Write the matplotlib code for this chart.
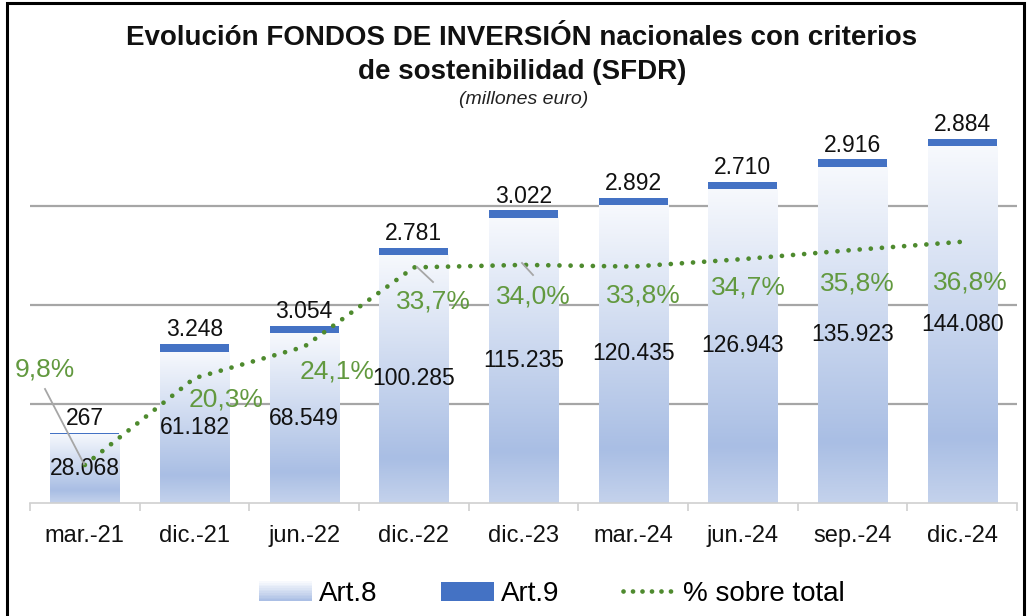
import numpy as np
import matplotlib
matplotlib.use("Agg")
import matplotlib.pyplot as plt
from matplotlib.colors import LinearSegmentedColormap
from matplotlib.patches import Rectangle
from matplotlib.legend_handler import HandlerBase
from matplotlib.lines import Line2D

# ---------------- data ----------------
categories = ["mar.-21", "dic.-21", "jun.-22", "dic.-22", "dic.-23",
              "mar.-24", "jun.-24", "sep.-24", "dic.-24"]
art8 = [28068, 61182, 68549, 100285, 115235, 120435, 126943, 135923, 144080]
art9 = [267, 3248, 3054, 2781, 3022, 2892, 2710, 2916, 2884]
pct = [9.8, 20.3, 24.1, 33.7, 34.0, 33.8, 34.7, 35.8, 36.8]

title = "Evolución FONDOS DE INVERSIÓN nacionales con criterios\nde sostenibilidad (SFDR)"
subtitle = "(millones euro)"

FONT = "Liberation Sans"
plt.rcParams['font.family'] = [FONT, 'DejaVu Sans']

W, H = 1029, 616
fig = plt.figure(figsize=(W / 100, H / 100), dpi=100)

# axes area in pixels
x0, x1 = 30, 1017
ybase, ytop = 503, 107
ax = fig.add_axes([x0 / W, 1 - ybase / H, (x1 - x0) / W, (ybase - ytop) / H])
ax2 = ax.twinx()

n = len(categories)
xs = np.arange(n)
bw = 0.63

grad_cmap = LinearSegmentedColormap.from_list(
    "g", [(0.0, "#c4d2ec"), (0.18, "#a9bee4"), (1.0, "#f7f9fd")])
grad = np.linspace(0, 1, 256).reshape(-1, 1)

ymax = 160000
for x, a8, a9 in zip(xs, art8, art9):
    ax.imshow(grad, extent=[x - bw / 2, x + bw / 2, 0, a8], origin="lower",
              aspect="auto", cmap=grad_cmap, zorder=2, interpolation="bilinear")
bars9 = ax.bar(xs, art9, bw, bottom=art8, color="#4472c4", zorder=3)

for x, a8, a9 in zip(xs, art8, art9):
    ax.text(x, a8 / 2, f"{a8:,}".replace(",", "."), ha="center", va="center",
            fontsize=16.5, color="#111111", zorder=6)
    ax.annotate(f"{a9:,}".replace(",", "."), (x, a8 + a9), xytext=(0, 2),
                textcoords="offset points", ha="center", va="bottom",
                fontsize=16.5, color="#111111", zorder=6)

ax.set_xlim(-0.5, n - 0.5)
ax.set_ylim(0, ymax)
ax.set_yticks([40000, 80000, 120000])
ax.yaxis.grid(True, color="#a6a6a6", linewidth=1.6, zorder=0)
ax.set_axisbelow(True)
ax.tick_params(axis="y", left=False, labelleft=False)
ax.set_xticks(xs)
ax.set_xticklabels(categories, fontsize=17, color="#111111")
ax.tick_params(axis="x", length=0, pad=16)
ax.set_xticks(np.arange(n + 1) - 0.5, minor=True)
ax.tick_params(axis="x", which="minor", length=6, color="#d0d0d0", width=1.2)
for s in ["top", "right", "left"]:
    ax.spines[s].set_visible(False)
ax.spines["bottom"].set_color("#d0d0d0")
ax.spines["bottom"].set_linewidth(1.2)

# percentage line
ax2.plot(xs, pct, color="#4e8a2e", linewidth=3.4,
         linestyle=(0, (0.01, 2.35)), dash_capstyle="round", zorder=5)
ax2.set_ylim(5.2, 53.1)
ax2.axis("off")
ax.set_zorder(1)
ax2.set_zorder(2)
ax.patch.set_visible(False)

# pct label positions (pixels)
label_px = [(45, 370), (226, 399), (337, 371), (433, 301), (533, 296),
            (643, 295), (748, 288), (857, 283), (970, 282)]
green = "#62993f"
for i, (p, (lx, ly)) in enumerate(zip(pct, label_px)):
    fig.text(lx / W, 1 - ly / H, f"{p:.1f}%".replace(".", ","), ha="center",
             va="center", fontsize=19, color=green, zorder=10)

# leader lines
for (ax_, ay_), (bx_, by_) in [((45, 389), (84, 464)), ((417, 267), (433, 282)),
                               ((522, 263), (533, 275))]:
    fig.add_artist(Line2D([ax_ / W, bx_ / W], [1 - ay_ / H, 1 - by_ / H],
                          color="#a6a6a6", linewidth=1.3, zorder=9))

# title
fig.text(522 / W, 1 - 55 / H, title, ha="center", va="center",
         fontsize=20, fontweight="bold", color="#111111", linespacing=1.36)
fig.text(524 / W, 1 - 99 / H, subtitle, ha="center", va="center",
         fontsize=14, style="italic", color="#222222")


# legend with gradient handle
class GradHandler(HandlerBase):
    def create_artists(self, legend, orig, xd, yd, width, height, fontsize, trans):
        arts = []
        k = 12
        for j in range(k):
            c = grad_cmap(0.2 + 0.8 * j / (k - 1))
            arts.append(Rectangle((xd, yd + height * j / k), width, height / k + 0.3,
                                  facecolor=c, edgecolor="none", transform=trans))
        return arts


h8 = Rectangle((0, 0), 1, 1)
h9 = Rectangle((0, 0), 1, 1, facecolor="#4472c4")
hl = Line2D([0], [0], color="#4e8a2e", linewidth=3.4,
            linestyle=(0, (0.01, 2.0)), dash_capstyle="round")
fig.legend([h8, h9, hl], ["Art.8", "Art.9", "% sobre total"],
           handler_map={h8: GradHandler()}, loc="center",
           bbox_to_anchor=(552 / W, 1 - 594 / H), ncol=3, frameon=False,
           fontsize=20, handlelength=1.9, handleheight=0.7, handletextpad=0.25,
           columnspacing=2.3)

# outer frame
fig.add_artist(Rectangle((7 / W, -0.01), (1024 - 7) / W, 1 - 3 / H + 0.01,
                         transform=fig.transFigure, fill=False,
                         edgecolor="#000000", linewidth=2.2))

fig.savefig("out.png", dpi=100)
